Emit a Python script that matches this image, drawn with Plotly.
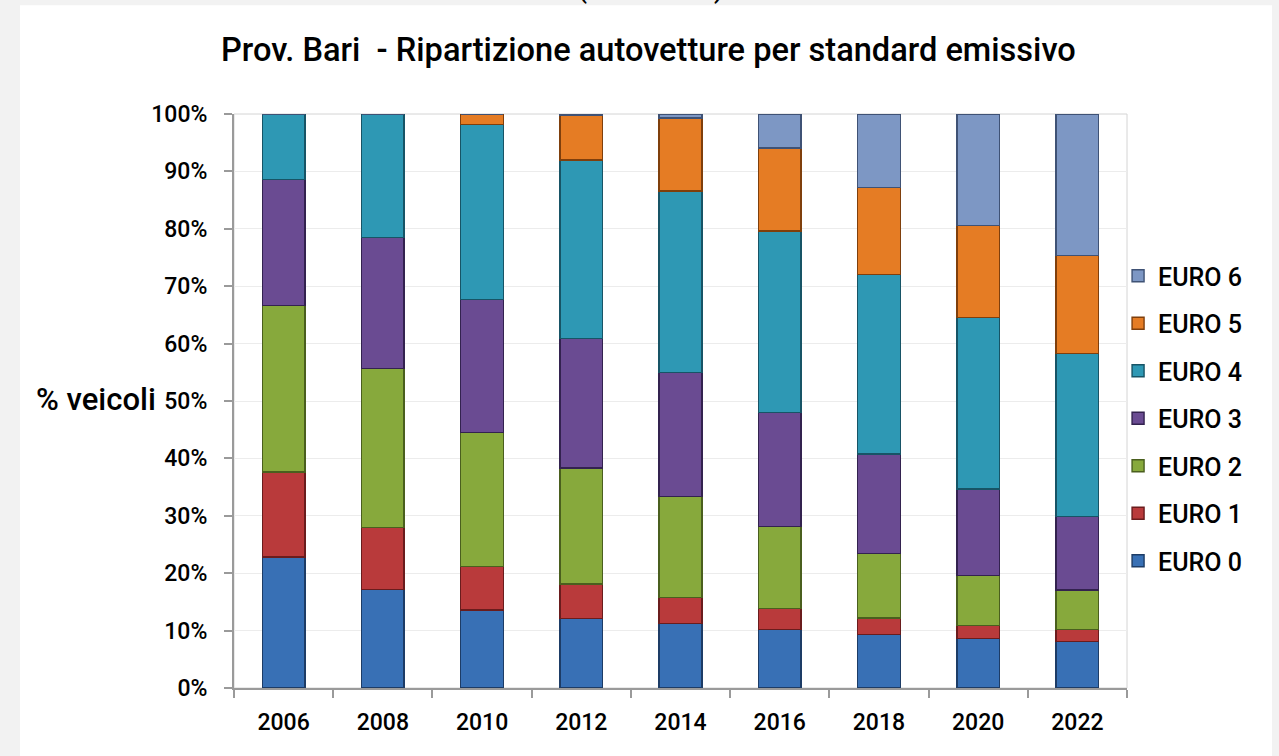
import plotly.graph_objects as go

years = ["2006", "2008", "2010", "2012", "2014", "2016", "2018", "2020", "2022"]
euro0 = [22.8, 17.2, 13.6, 12.1, 11.2, 10.2, 9.3, 8.6, 8.1]
euro1 = [14.8, 10.8, 7.6, 6.0, 4.6, 3.7, 2.9, 2.3, 2.1]
euro2 = [29.0, 27.7, 23.3, 20.2, 17.6, 14.2, 11.2, 8.7, 6.9]
euro3 = [22.0, 22.8, 23.2, 22.6, 21.6, 19.9, 17.4, 15.1, 12.8]
euro4 = [11.4, 21.5, 30.5, 31.1, 31.6, 31.6, 31.2, 29.9, 28.4]
euro5 = [0.0, 0.0, 1.8, 7.8, 12.7, 14.5, 15.2, 16.0, 17.1]
euro6 = [0.0, 0.0, 0.0, 0.2, 0.7, 5.9, 12.8, 19.4, 24.6]

series_names = ["EURO 0", "EURO 1", "EURO 2", "EURO 3", "EURO 4", "EURO 5", "EURO 6"]
series_values = [euro0, euro1, euro2, euro3, euro4, euro5, euro6]
fill_colors = ["#3870b5", "#b93a3b", "#87a93c", "#6a4b92", "#2e98b4", "#e57c24", "#7d97c4"]
edge_colors = ["#1d3c66", "#6a1c1d", "#4a5f1e", "#33224f", "#175466", "#7f3f0c", "#3f5275"]

y_tick_vals = [0, 10, 20, 30, 40, 50, 60, 70, 80, 90, 100]
y_tick_text = ["0%", "10%", "20%", "30%", "40%", "50%", "60%", "70%", "80%", "90%", "100%"]

title_text = "Prov. Bari  - Ripartizione autovetture per standard emissivo"
y_title = "% veicoli"
top_cut_text = "(2006-2022)"

FONT = "Roboto"

fig = go.Figure()
n = len(series_names)
for i, (name, vals, fc, ec) in enumerate(zip(series_names, series_values, fill_colors, edge_colors)):
    fig.add_trace(go.Bar(
        x=years, y=vals, name=name, legendgroup=name, legendrank=n - i,
        marker=dict(color=fc, line=dict(color=ec, width=1.4)),
        width=0.43,
    ))

# white panel over gray background
fig.add_shape(type="rect", xref="paper", yref="paper",
              x0=-0.2396, x1=1.1624, y0=-0.2, y1=1.1895,
              fillcolor="white", line=dict(width=0), layer="below")
# plot area border
fig.add_shape(type="rect", xref="paper", yref="paper",
              x0=0, x1=1, y0=0, y1=1,
              fillcolor="rgba(0,0,0,0)", line=dict(color="#d4d4d4", width=1), layer="below")

fig.add_annotation(text=y_title, xref="paper", yref="paper", x=-0.0851, y=0.502,
                   xanchor="right", yanchor="middle", showarrow=False,
                   font=dict(family=FONT, size=31, color="black", weight=500))
fig.add_annotation(text=top_cut_text, xref="paper", yref="paper", x=0.4669, y=1.1875,
                   xanchor="center", yanchor="bottom", showarrow=False,
                   font=dict(family=FONT, size=26, color="black", weight=500))

fig.update_layout(
    width=1279, height=756,
    barmode="stack",
    paper_bgcolor="#f2f2f2",
    plot_bgcolor="white",
    margin=dict(l=234, r=152, t=114, b=68, autoexpand=False),
    title=dict(text=title_text, x=0.507, xanchor="center", y=0.934, yanchor="middle",
               font=dict(family=FONT, size=32.6, color="black", weight=500)),
    font=dict(family=FONT, color="black"),
    showlegend=True,
    legend=dict(x=0.99, xanchor="left", y=0.4695, yanchor="middle",
                traceorder="grouped", tracegroupgap=12,
                itemwidth=30, bgcolor="rgba(0,0,0,0)",
                font=dict(family=FONT, size=25, color="black", weight=500)),
    bargap=0.57,
)
fig.update_yaxes(range=[0, 100], tickvals=y_tick_vals, ticktext=y_tick_text,
                 showgrid=True, gridcolor="#ececec", gridwidth=1,
                 showline=True, linecolor="#9a9a9a", linewidth=2,
                 ticks="outside", ticklen=8, tickcolor="#9a9a9a", tickwidth=2,
                 ticklabelstandoff=12, zeroline=False,
                 tickfont=dict(family=FONT, size=23, color="black", weight=500))
fig.update_xaxes(showline=True, linecolor="#9a9a9a", linewidth=2,
                 ticks="outside", ticklen=8, tickcolor="#9a9a9a", tickwidth=2,
                 tickson="boundaries", ticklabelstandoff=12,
                 tickfont=dict(family=FONT, size=23, color="black", weight=500))

fig.write_html("out.html", config={"displayModeBar": False},
               post_script="document.body.style.margin='0';")
